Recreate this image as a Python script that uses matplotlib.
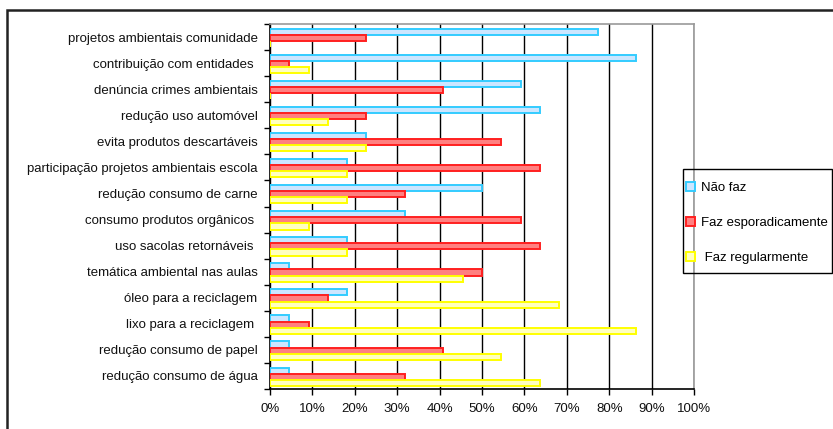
import matplotlib.pyplot as plt
from matplotlib.patches import Rectangle
import numpy as np

plt.rcParams['font.family'] = ['Liberation Sans', 'DejaVu Sans']

# categories listed bottom to top
categorias = ["redução consumo de água", "redução consumo de papel",
              "lixo para a reciclagem ", "óleo para a reciclagem",
              "temática ambiental nas aulas", "uso sacolas retornáveis ",
              "consumo produtos orgânicos ", "redução consumo de carne",
              "participação projetos ambientais escola", "evita produtos descartáveis",
              "redução uso automóvel", "denúncia crimes ambientais",
              "contribuição com entidades ", "projetos ambientais comunidade"]

nao_faz = [4.5, 4.5, 4.5, 18.2, 4.5, 18.2, 31.8, 50.0, 18.2, 22.7, 63.6, 59.1, 86.4, 77.3]
esporad = [31.8, 40.9, 9.1, 13.6, 50.0, 63.6, 59.1, 31.8, 63.6, 54.5, 22.7, 40.9, 4.5, 22.7]
regular = [63.6, 54.5, 86.4, 68.2, 45.5, 18.2, 9.1, 18.2, 18.2, 22.7, 13.6, 0.0, 9.1, 0.0]

series = [("Não faz", nao_faz, "#CCE6FF", "#33CCFF"),
          ("Faz esporadicamente", esporad, "#FF8080", "#FF2020"),
          (" Faz regularmente", regular, "#FFFFC0", "#FFFF00")]

fig = plt.figure(figsize=(8.33, 4.29), dpi=100)
ax = fig.add_axes([270/833, 1-389/429, 424/833, 365/429])

y = np.arange(len(categorias))
h = 0.235
offsets = [h, 0, -h]
for (nome, vals, face, edge), off in zip(series, offsets):
    ax.barh(y + off - 0.03, vals, height=h, color=face, edgecolor=edge,
            linewidth=1.4, label=nome, zorder=3)

ax.set_xlim(0, 100)
ax.set_ylim(-0.5, len(categorias) - 0.5)
ax.set_xticks(np.arange(0, 101, 10))
ax.set_xticklabels([f"{v}%" for v in range(0, 101, 10)], fontsize=9.5, color='#111111')
ax.set_yticks(y)
ax.set_yticklabels(categorias, fontsize=9.5, color='#111111')
ax.set_yticks(np.arange(-0.5, len(categorias), 1), minor=True)
ax.tick_params(axis='y', which='major', length=0, pad=9)
ax.tick_params(axis='y', which='minor', length=4, width=1, color='black')
ax.tick_params(axis='x', length=4, width=1, color='black', pad=6)

ax.grid(axis='x', color='black', linewidth=1, zorder=0)
for s in ['top', 'right']:
    ax.spines[s].set_color('#999999')
    ax.spines[s].set_linewidth(1.2)
for s in ['left', 'bottom']:
    ax.spines[s].set_color('black')
    ax.spines[s].set_linewidth(1.2)

# legend entries without their own frame; the box is drawn separately
leg = fig.legend(loc='upper left', bbox_to_anchor=(686/833, 1-182/429),
                 fontsize=9.5, frameon=False,
                 handlelength=0.7, handleheight=0.7, handletextpad=0.45,
                 labelspacing=1.72, borderpad=0, borderaxespad=0)
fig.patches.append(Rectangle((683/833, 1-273/429), 149/833, 104/429,
                             transform=fig.transFigure, fill=False,
                             edgecolor='black', linewidth=1))

# outer chart border
fig.patches.append(Rectangle((7/833, -0.1), 1.2, 1 - 10/429 + 0.1,
                             transform=fig.transFigure, fill=False,
                             edgecolor='#222222', linewidth=1.8))

fig.savefig('out.png', dpi=100)
